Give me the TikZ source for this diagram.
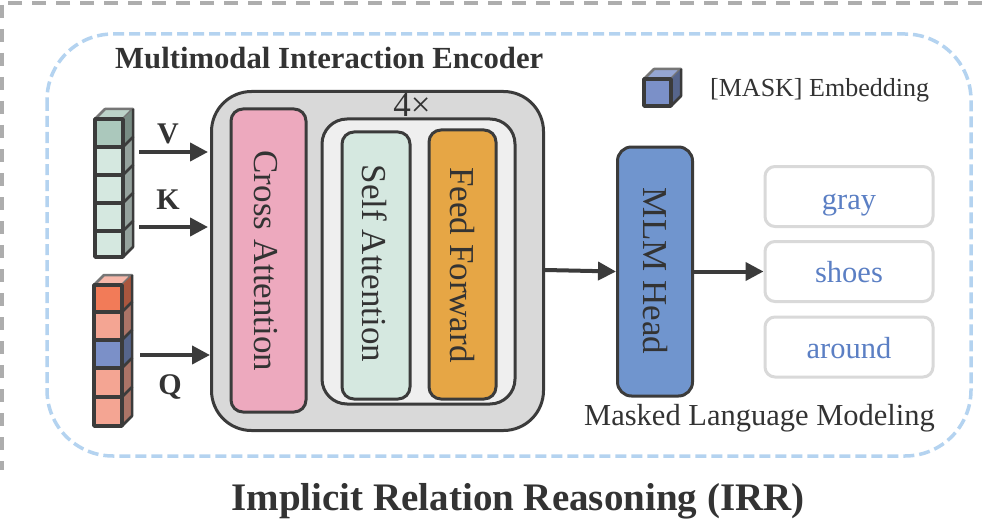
\documentclass[tikz,border=0pt]{standalone}
\usepackage{fontspec}
\setmainfont{Liberation Serif}
\usetikzlibrary{arrows.meta}
\definecolor{ink}{HTML}{3B3B3B}
\definecolor{txt}{HTML}{333333}
\definecolor{wordc}{HTML}{5B7FC4}
\definecolor{dashblue}{HTML}{B4D3F0}
\definecolor{dashgray}{HTML}{ADADAD}
\definecolor{panel}{HTML}{D9D9D9}
\definecolor{innerc}{HTML}{EFEFEF}
\definecolor{crossc}{HTML}{EDA9BE}
\definecolor{selfc}{HTML}{D5E8E0}
\definecolor{feedc}{HTML}{E6A645}
\definecolor{mlmc}{HTML}{7095CE}
\definecolor{greenD}{HTML}{ABC8BC}
\definecolor{redD}{HTML}{F27B58}
\definecolor{redL}{HTML}{F4A593}
\definecolor{blueC}{HTML}{7B90C8}
\tikzset{
  x=1pt,y=-1pt,
  panelbox/.style={draw=ink,line width=3pt,rounded corners=#1},
  wordbox/.style={draw=panel,line width=3pt,rounded corners=10pt,fill=white,minimum width=168pt,minimum height=60pt,text=wordc,text height=22pt,text depth=0pt,font=\fontsize{30.5}{32}\selectfont},
  lbl/.style={text=txt,inner sep=0pt},
  boldlbl/.style={lbl,font=\bfseries\fontsize{30.7}{33}\selectfont},
  flow/.style={draw=ink,line width=4pt,-{Triangle[length=18pt,width=18pt]}},
  vtext/.style={text=txt,rotate=-90,inner sep=0pt,font=\fontsize{35}{38}\selectfont},
}
\newcommand{\cubecell}[5]{% x1,y1,size w,h, colour
  \fill[#5] (#1,#2) rectangle ++(#3,#4);
  \fill[#5!70!black] (#1+#3,#2) -- ++(10,-10) -- ++(0,#4) -- ++(-10,10) -- cycle;
  \draw[ink,line width=3.5pt,line join=round] (#1,#2) rectangle ++(#3,#4);
  \draw[ink,line width=2.5pt,line join=round] (#1+#3,#2+#4) -- ++(10,-10) -- ++(0,-#4);
}
\newcommand{\cubetop}[4]{% x,y,w,colour
  \fill[#4!80!white] (#1,#2) -- ++(10,-10) -- ++(#3,0) -- ++(-10,10) -- cycle;
  \draw[ink!70!white,line width=2.5pt,line join=round] (#1,#2) -- ++(10,-10) -- ++(#3,0) -- ++(-10,10);
  \draw[ink!70!white,line width=2.5pt,line join=round] (#1+#3+10,#2-10) -- ++(0,10);
}
\begin{document}
\begin{tikzpicture}
\useasboundingbox (0,0) rectangle (982,532);
\fill[white] (0,0) rectangle (982,532);
% outer dashed frames
\draw[dashgray,line width=4pt,dash pattern=on 14pt off 10pt] (982,3) -- (2,3);
\draw[dashgray,line width=4pt,dash pattern=on 13pt off 11pt] (2,5) -- (2,470);
\draw[dashblue,line width=3.5pt,dash pattern=on 11pt off 5pt,rounded corners=66pt] (47,34) rectangle (971,456);
% titles
\node[boldlbl,anchor=base west] (enc) at (115,69) {Multimodal Interaction Encoder};
\node[lbl,anchor=base west,font=\fontsize{26}{28}\selectfont] (maskt) at (710,97) {[MASK] Embedding};
\node[lbl,anchor=base,font=\bfseries\fontsize{39}{42}\selectfont] (irr) at (518,510) {Implicit Relation Reasoning (IRR)};
% mask legend
\cubetop{644}{79}{27}{blueC}
\cubecell{644}{79}{27}{27}{blueC}
% V/K stack
\cubetop{95}{119}{28}{greenD}
\cubecell{95}{231}{28}{26}{selfc}
\cubecell{95}{203}{28}{28}{selfc}
\cubecell{95}{175}{28}{28}{selfc}
\cubecell{95}{147}{28}{28}{selfc}
\cubecell{95}{119}{28}{28}{greenD}
% Q stack
\cubetop{94}{285}{28}{redL}
\cubecell{94}{397}{28}{29}{redL}
\cubecell{94}{368}{28}{29}{redL}
\cubecell{94}{340}{28}{28}{blueC}
\cubecell{94}{312}{28}{28}{redL}
\cubecell{94}{285}{28}{27}{redD}
% main panels
\node[panelbox=40pt,fill=panel,minimum width=332pt,minimum height=339pt,inner sep=0pt] (enclosure) at (377.5,261) {};
\node[panelbox=25pt,fill=innerc,minimum width=193pt,minimum height=285pt,inner sep=0pt] (inner) at (418.5,261.5) {};
\node[panelbox=12pt,fill=crossc,minimum width=75pt,minimum height=303pt,inner sep=0pt] (cross) at (268.5,260.5) {};
\node[panelbox=12pt,fill=selfc,minimum width=68pt,minimum height=267pt,inner sep=0pt] (self) at (376,265.5) {};
\node[panelbox=12pt,fill=feedc,minimum width=67pt,minimum height=269pt,inner sep=0pt] (feed) at (462.5,264.5) {};
\node[panelbox=14pt,fill=mlmc,minimum width=75pt,minimum height=249pt,inner sep=0pt] (mlm) at (655,271.5) {};
\node[vtext] (crosst) at (266,261) {Cross Attention};
\node[vtext] (selft) at (375,263.5) {Self Attention};
\node[vtext] (feedt) at (462,265) {Feed Forward};
\node[vtext] (mlmt) at (655,271) {MLM Head};
\node[lbl,font=\fontsize{35}{38}\selectfont] (four) at (412,105) {4×};
% words
\node[wordbox,text height=25pt] (w1) at (849,196.5) {gray};
\node[wordbox] (w2) at (849,271.5) {shoes};
\node[wordbox] (w3) at (849,347) {around};
\node[lbl,anchor=base west,font=\fontsize{30.5}{32}\selectfont] (mlmcap) at (584,425) {Masked Language Modeling};
% labels and connectors
\coordinate (vs) at (139,152); \coordinate (ks) at (139,227); \coordinate (qs) at (140,355);
\coordinate (vt) at (208,152); \coordinate (kt) at (208,227); \coordinate (qt) at (210,355);
\coordinate (es) at (545,270);
\node[lbl,font=\bfseries\fontsize{30}{32}\selectfont] (vl) at (168,134) {V};
\node[lbl,font=\bfseries\fontsize{30}{32}\selectfont] (kl) at (168,200) {K};
\node[lbl,font=\bfseries\fontsize{30}{32}\selectfont] (ql) at (170,387) {Q};
\draw[flow] (vs) -- (vt);
\draw[flow] (ks) -- (kt);
\draw[flow] (qs) -- (qt);
\draw[flow] (es) -- (mlm.west);
\draw[flow] (mlm.east) -- (w2.west);
\end{tikzpicture}
\end{document}
